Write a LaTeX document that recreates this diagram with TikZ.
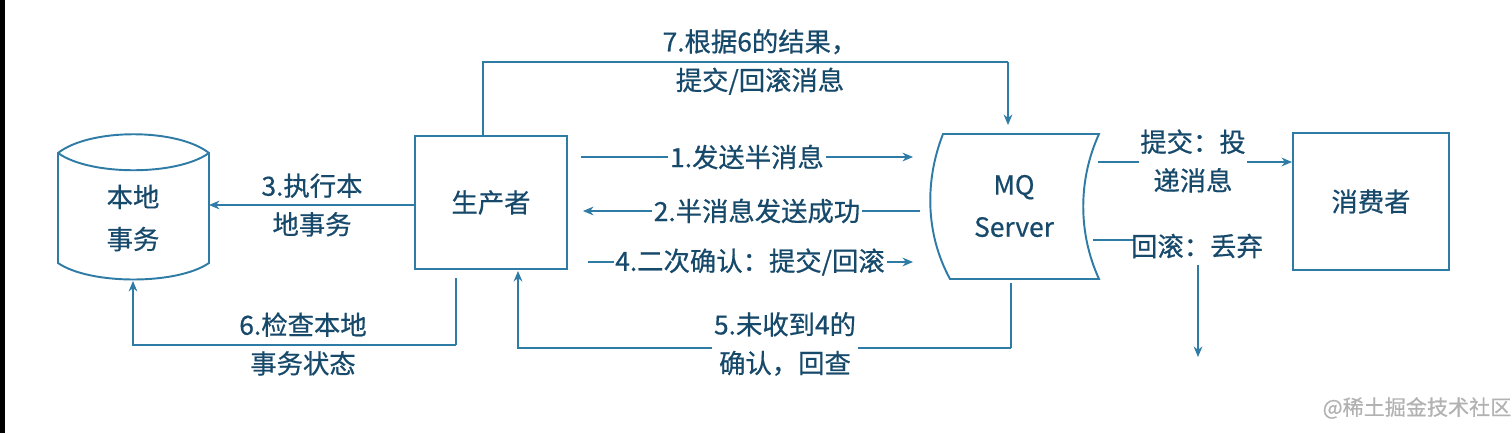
\documentclass[tikz,border=0pt]{standalone}
\usepackage{fontspec}
\setmainfont[FakeBold=0.6,AutoFakeBold=0.6]{Noto Sans CJK SC}
\usetikzlibrary{arrows.meta}
\definecolor{ln}{HTML}{2E7BA6}
\definecolor{tx}{HTML}{17496B}
\begin{document}
\begin{tikzpicture}[x=0.02cm,y=-0.02cm,
  shp/.style={draw=ln,line width=1.1pt},
  conn/.style={draw=ln,line width=0.6pt,-{Stealth[length=6pt,width=5pt]}},
  wire/.style={draw=ln,line width=0.6pt},
  lbl/.style={text=tx,font=\bfseries\fontsize{15}{22}\selectfont,align=center,inner sep=1pt},
  blbl/.style={lbl,fill=white},
  every node/.style={text=tx,font=\bfseries\fontsize{15}{24}\selectfont,align=center}]
\useasboundingbox (0,0) rectangle (1512,433);
\fill[black] (0,0) rectangle (5,433);
% cylinder
\draw[shp] (58,153) .. controls (90,128) and (177,128) .. (209,153) -- (209,263)
  .. controls (177,285) and (90,285) .. (58,263) -- cycle;
\draw[shp] (58,153) .. controls (90,176) and (177,176) .. (209,153);
\node (db) at (133,218) {本地\\事务};
\coordinate (dbR) at (209,205);
\coordinate (dbB) at (133,281);
% producer
\node[shp,minimum width=152*0.02cm,minimum height=133*0.02cm] (p) at (491,202.5) {生产者};
% MQ
\draw[shp] (943,134) -- (1099,134) .. controls (1078,180) and (1078,233) .. (1099,279)
  -- (950,279) .. controls (925,233) and (925,180) .. (943,134) -- cycle;
\node (mq) at (1014,206) {MQ\\Server};
% consumer
\node[shp,minimum width=156*0.02cm,minimum height=137*0.02cm] (c) at (1371,201.5) {消费者};
% 7
\coordinate (a7) at (483,62);
\coordinate (b7) at (1008,62);
\draw[wire] (p.north -| a7) -- (a7) -- (b7);
\draw[conn] (b7) -- (1008,125);
\node[lbl] (l7) at (760,62) {7.根据6的结果，\\提交/回滚消息};
% 1
\coordinate (s1) at (581,157); \coordinate (e1) at (913,157);
\draw[conn] (s1) -- (e1);
\node[blbl] (l1) at (747,157) {1.发送半消息};
% 2
\coordinate (s2) at (920,211); \coordinate (e2) at (583,211);
\draw[conn] (s2) -- (e2);
\node[blbl] (l2) at (757,211) {2.半消息发送成功};
% 4
\coordinate (s4) at (588,262); \coordinate (e4) at (913,262);
\draw[conn] (s4) -- (e4);
\node[blbl] (l4) at (750,262) {4.二次确认：提交/回滚};
% 3
\draw[conn] (p.west |- dbR) -- (dbR);
\node[lbl] (l3) at (312,205) {3.执行本\\地事务};
% 6
\coordinate (t6) at (456,345);
\draw[wire] (456,278) -- (t6);
\draw[conn] (t6) -- (133,345) -- (dbB);
\node[lbl] (l6) at (303,344) {6.检查本地\\事务状态};
% 5
\coordinate (t5) at (1011,348);
\draw[wire] (1011,283) -- (t5);
\draw[conn] (t5) -- (518,348) -- (518,271);
\node[blbl] (l5) at (785,344) {5.未收到4的\\确认，回查};
% commit
\draw[conn] (1098,162) -- (c.west |- 0,162);
\node[blbl] (lc) at (1193,161) {提交：投\\递消息};
% rollback
\draw[wire] (1093,240) -- (1135,240);
\node[lbl] (lr) at (1197,246) {回滚：丢弃};
\draw[conn] (1198,265) -- (1198,357);
\node[text=gray!60,font=\fontsize{12}{13}\selectfont] (wm) at (1417,408) {@稀土掘金技术社区};
\end{tikzpicture}
\end{document}
